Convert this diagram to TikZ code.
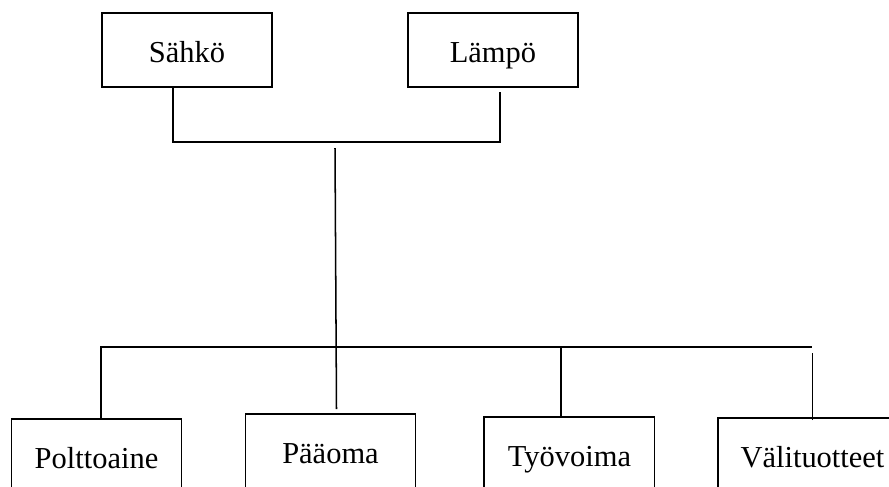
\documentclass[tikz,border=0pt]{standalone}
\usepackage{fontspec}
\setmainfont{Liberation Serif}
\usetikzlibrary{positioning}

\begin{document}
\begin{tikzpicture}[x=0.3mm, y=-0.3mm, node distance=18.6mm, font=\fontsize{26}{30}\selectfont,
  box/.style={draw, line width=1.7pt, minimum width=51mm, minimum height=22.2mm, inner sep=0pt,
    text height=27pt, text depth=5pt},
  link/.style={line width=1.3pt}]
\useasboundingbox (0,0) rectangle (889,486);
\clip (0,0) rectangle (889,486);
% ylärivi
\node[box] (sahko) at (187,50) {Sähkö};
\node[box,right=40.2mm of sahko] (lampo) {Lämpö};
% alarivi
\node[box] (poltto) at (96.5,456) {Polttoaine};
\node[box,right=of poltto,yshift=1.5mm] (paaoma) {Pääoma};
\node[box,right=20.1mm of paaoma,yshift=-0.9mm] (tyovoima) {Työvoima};
\node[box,right=of tyovoima,yshift=-0.3mm,minimum width=56.4mm] (valit) {Välituotteet};
% liitokset
\coordinate (jtop) at (335,142);
\coordinate (jbot) at (335,347);
\draw[link] ([xshift=-4.2mm]sahko.south) |- (jtop) -| ([xshift=2.1mm,yshift=-1.2mm]lampo.south);
\draw[link] ([yshift=-1.8mm]jtop) -- ([xshift=1.8mm,yshift=1.2mm]paaoma.north);
\draw[link] ([xshift=1.35mm]poltto.north) |- (valit.north |- jbot);
\draw[link] ([xshift=-2.55mm]tyovoima.north) -- ([xshift=-2.55mm]tyovoima.north |- jbot);
\draw[link] ([yshift=-0.9mm]valit.north) -- ([yshift=-1.8mm]valit.north |- jbot);
\end{tikzpicture}
\end{document}
